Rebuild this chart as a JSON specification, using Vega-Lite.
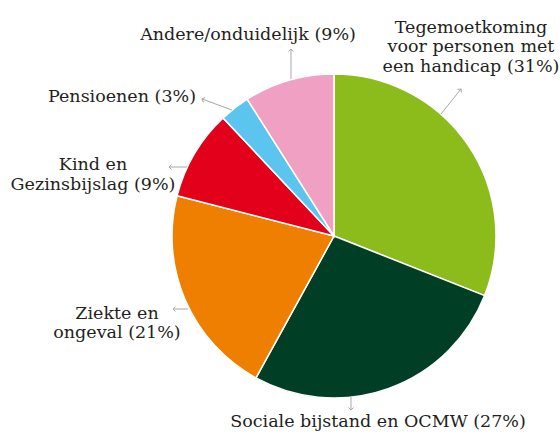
{
  "$schema": "https://vega.github.io/schema/vega-lite/v6.json",
  "width": 560,
  "height": 437,
  "autosize": {"type": "fit", "contains": "padding"},
  "padding": 0,
  "background": "white",
  "config": {"view": {"stroke": null}},
  "datasets": {
    "shares": [
      {"category": "Tegemoetkoming voor personen met een handicap", "share": 31, "rank": 1},
      {"category": "Sociale bijstand en OCMW", "share": 27, "rank": 2},
      {"category": "Ziekte en ongeval", "share": 21, "rank": 3},
      {"category": "Kind en Gezinsbijslag", "share": 9, "rank": 4},
      {"category": "Pensioenen", "share": 3, "rank": 5},
      {"category": "Andere/onduidelijk", "share": 9, "rank": 6}
    ],
    "callouts": [
      {"label": "Tegemoetkoming\nvoor personen met\neen handicap (31%)", "lx": 0.8457, "ly": 1.2531, "baseX": 0.6605, "baseY": 0.7531, "tipX": 0.784, "tipY": 0.9074},
      {"label": "Sociale bijstand en OCMW (27%)", "lx": 0.2716, "ly": -1.179, "baseX": 0.1049, "baseY": -0.9938, "tipX": 0.1049, "tipY": -1.0741},
      {"label": "Ziekte en\nongeval (21%)", "lx": -1.3395, "ly": -0.5123, "baseX": -0.9012, "baseY": -0.4506, "tipX": -0.9938, "tipY": -0.4506},
      {"label": "Kind en\nGezinsbijslag (9%)", "lx": -1.4877, "ly": 0.4074, "baseX": -0.9074, "baseY": 0.4259, "tipX": -1.0185, "tipY": 0.4259},
      {"label": "Pensioenen (3%)", "lx": -1.3086, "ly": 0.8272, "baseX": -0.6296, "baseY": 0.7778, "tipX": -0.8148, "tipY": 0.8457},
      {"label": "Andere/onduidelijk (9%)", "lx": -0.5309, "ly": 1.2099, "baseX": -0.2654, "baseY": 0.9691, "tipX": -0.2654, "tipY": 1.1543}
    ]
  },
  "layer": [
    {
      "data": {"name": "shares"},
      "mark": {"type": "arc", "outerRadius": 162, "stroke": "white", "strokeWidth": 1.5},
      "encoding": {
        "x": {"datum": 0, "type": "quantitative", "scale": {"domain": [-2.0617, 1.3951], "nice": false, "zero": false}, "axis": null},
        "y": {"datum": 0, "type": "quantitative", "scale": {"domain": [-1.2407, 1.4568], "nice": false, "zero": false}, "axis": null},
        "theta": {"field": "share", "type": "quantitative", "stack": true},
        "order": {"field": "rank", "type": "quantitative"},
        "color": {
          "field": "category",
          "type": "nominal",
          "legend": null,
          "scale": {
            "domain": ["Tegemoetkoming voor personen met een handicap", "Sociale bijstand en OCMW", "Ziekte en ongeval", "Kind en Gezinsbijslag", "Pensioenen", "Andere/onduidelijk"],
            "range": ["#8cbb1c", "#003f26", "#ef7f00", "#e2001a", "#5bc5ef", "#f0a1c3"]
          }
        }
      }
    },
    {
      "data": {"name": "callouts"},
      "mark": {"type": "rule", "stroke": "#a8a8a8", "strokeWidth": 1},
      "encoding": {
        "x": {"field": "baseX", "type": "quantitative", "scale": {"domain": [-2.0617, 1.3951], "nice": false, "zero": false}, "axis": null},
        "y": {"field": "baseY", "type": "quantitative", "scale": {"domain": [-1.2407, 1.4568], "nice": false, "zero": false}, "axis": null},
        "x2": {"field": "tipX"},
        "y2": {"field": "tipY"}
      }
    },
    {
      "data": {"name": "callouts"},
      "transform": [
        {"calculate": "atan2(datum.tipX - datum.baseX, datum.tipY - datum.baseY) * 180 / PI", "as": "heading"}
      ],
      "mark": {"type": "point", "shape": "M-1,1L0,0L1,1", "filled": false, "size": 25, "stroke": "#a8a8a8", "strokeWidth": 1, "opacity": 1},
      "encoding": {
        "x": {"field": "tipX", "type": "quantitative", "scale": {"domain": [-2.0617, 1.3951], "nice": false, "zero": false}, "axis": null},
        "y": {"field": "tipY", "type": "quantitative", "scale": {"domain": [-1.2407, 1.4568], "nice": false, "zero": false}, "axis": null},
        "angle": {"field": "heading", "type": "quantitative", "scale": null}
      }
    },
    {
      "data": {"name": "callouts"},
      "mark": {"type": "text", "align": "center", "baseline": "alphabetic", "lineBreak": "\n", "lineHeight": 19.5, "font": "DejaVu Serif", "fontSize": 17.5, "color": "#231f20"},
      "encoding": {
        "x": {"field": "lx", "type": "quantitative", "scale": {"domain": [-2.0617, 1.3951], "nice": false, "zero": false}, "axis": null},
        "y": {"field": "ly", "type": "quantitative", "scale": {"domain": [-1.2407, 1.4568], "nice": false, "zero": false}, "axis": null},
        "text": {"field": "label"}
      }
    }
  ]
}
